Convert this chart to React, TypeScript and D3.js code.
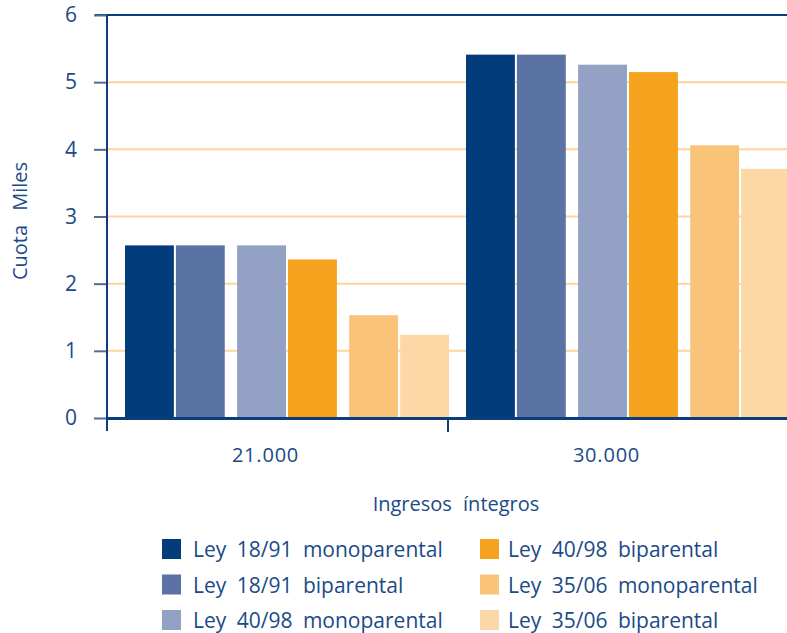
import React, { useEffect, useRef } from 'react';
import * as d3 from 'd3';

const categories = ['21.000', '30.000'];
const seriesNames = [
  'Ley 18/91 monoparental',
  'Ley 18/91 biparental',
  'Ley 40/98 monoparental',
  'Ley 40/98 biparental',
  'Ley 35/06 monoparental',
  'Ley 35/06 biparental',
];
const seriesColors = ['#033c7a', '#5b72a5', '#93a1c4', '#f5a21e', '#f9c37a', '#fdd8a7'];
// values per series: [21.000, 30.000]
const values21 = [2.57, 2.57, 2.57, 2.36, 1.53, 1.24];
const values30 = [5.41, 5.41, 5.26, 5.15, 4.06, 3.71];
const yTicks = [0, 1, 2, 3, 4, 5, 6];

const textColor = '#1b4a87';
const axisColor = '#0b3d7e';
const font = "'Open Sans', sans-serif";

const App: React.FC = () => {
  const svgRef = useRef<SVGSVGElement>(null);

  useEffect(() => {
    if (!svgRef.current) return;
    const svg = d3.select(svgRef.current);
    svg.selectAll('*').remove();

    const left = 107, right = 789, top = 15, bottom = 418;

    const x0 = d3.scaleBand().domain(categories).range([left, right]).padding(0);
    const y = d3.scaleLinear().domain([0, 6]).range([bottom, top]);

    // bars laid out in 3 pairs inside each group
    const pair = d3.scaleBand().domain(['0', '1', '2']).range([18, 18 + 108 * 3]).paddingInner(0.11).paddingOuter(0);
    const inPair = d3.scaleBand().domain(['0', '1']).range([0, pair.bandwidth()]).paddingInner(0.04);

    // gridlines
    svg.append('g')
      .selectAll('line')
      .data(yTicks.filter(t => t > 0 && t < 6))
      .enter()
      .append('line')
      .attr('x1', left)
      .attr('x2', 787)
      .attr('y1', d => y(d))
      .attr('y2', d => y(d))
      .attr('stroke', '#fdd49a')
      .attr('stroke-width', 2);

    // bars
    const data = [values21, values30];
    categories.forEach((cat, ci) => {
      const g = svg.append('g').attr('transform', `translate(${x0(cat)},0)`);
      g.selectAll('rect')
        .data(data[ci])
        .enter()
        .append('rect')
        .attr('x', (_, i) => (pair(String(Math.floor(i / 2))) || 0) + (inPair(String(i % 2)) || 0))
        .attr('width', inPair.bandwidth())
        .attr('y', d => y(d))
        .attr('height', d => bottom - y(d))
        .attr('fill', (_, i) => seriesColors[i]);
    });

    // top frame line
    svg.append('line')
      .attr('x1', left - 12).attr('x2', 787)
      .attr('y1', y(6)).attr('y2', y(6))
      .attr('stroke', axisColor).attr('stroke-width', 2);

    // y axis
    const yAxis = svg.append('g')
      .attr('transform', `translate(${left},0)`)
      .call(d3.axisLeft(y).tickValues(yTicks).tickSize(13).tickPadding(17).tickFormat(d3.format('d')));
    yAxis.select('.domain').remove();
    yAxis.selectAll('.tick line').attr('stroke', '#4f6c9e').attr('stroke-width', 2);
    yAxis.selectAll('.tick text')
      .attr('fill', textColor)
      .style('font-family', font)
      .style('font-size', '21px');
    svg.append('line')
      .attr('x1', left).attr('x2', left)
      .attr('y1', top).attr('y2', 431)
      .attr('stroke', axisColor).attr('stroke-width', 2);

    // x axis
    svg.append('line')
      .attr('x1', left).attr('x2', 787)
      .attr('y1', bottom + 0.5).attr('y2', bottom + 0.5)
      .attr('stroke', axisColor).attr('stroke-width', 3);
    svg.append('g')
      .selectAll('line')
      .data(categories.slice(1))
      .enter()
      .append('line')
      .attr('x1', d => x0(d) || 0)
      .attr('x2', d => x0(d) || 0)
      .attr('y1', bottom).attr('y2', 432)
      .attr('stroke', axisColor).attr('stroke-width', 2);
    svg.append('g')
      .selectAll('text')
      .data(categories)
      .enter()
      .append('text')
      .attr('x', d => (x0(d) || 0) + x0.bandwidth() / 2 - 12)
      .attr('y', 462)
      .attr('text-anchor', 'middle')
      .attr('fill', textColor)
      .style('font-family', font)
      .style('font-size', '20px')
      .style('letter-spacing', '0.8px')
      .text(d => d);

    // axis titles
    svg.append('text')
      .attr('x', 456).attr('y', 511)
      .attr('text-anchor', 'middle')
      .attr('fill', textColor)
      .style('font-family', font)
      .style('font-size', '20px')
      .style('word-spacing', '6px')
      .text('Ingresos íntegros');
    svg.append('text')
      .attr('transform', 'translate(27,221) rotate(-90)')
      .attr('text-anchor', 'middle')
      .attr('fill', textColor)
      .style('font-family', font)
      .style('font-size', '20px')
      .style('word-spacing', '9px')
      .text('Cuota Miles');

    // legend
    const legend = svg.append('g');
    const items = legend.selectAll('g')
      .data(seriesNames)
      .enter()
      .append('g')
      .attr('transform', (_, i) => `translate(${i < 3 ? 162 : 480},${539 + (i % 3) * 35.5})`);
    items.append('rect')
      .attr('width', 19).attr('height', 20)
      .attr('fill', (_, i) => seriesColors[i]);
    items.append('text')
      .attr('x', (_, i) => (i < 3 ? 31 : 28)).attr('y', 18)
      .attr('fill', textColor)
      .style('font-family', font)
      .style('font-size', '21px')
      .style('word-spacing', '5px')
      .text(d => d);
  }, []);

  return (
    <div style={{ position: 'absolute', left: 0, top: 0 }}>
      <svg ref={svgRef} width={787} height={633} style={{ display: 'block', background: '#fff' }} />
    </div>
  );
};

export default App;
